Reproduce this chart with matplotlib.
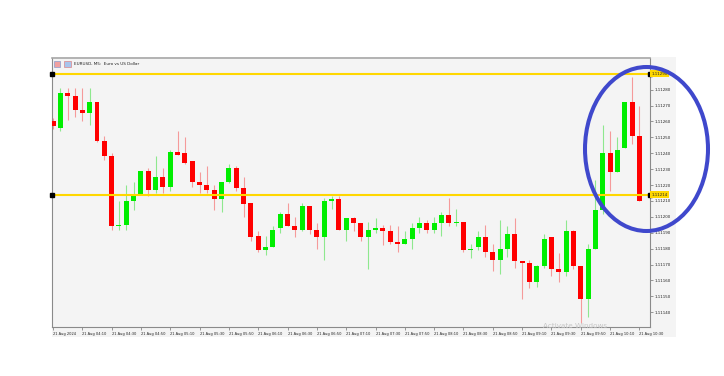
import numpy as np
import matplotlib
matplotlib.use("Agg")
import matplotlib.pyplot as plt
import matplotlib.transforms as mtransforms
from matplotlib.patches import Ellipse, Rectangle

# EURUSD M5 candles, 21 Aug 2024 03:50 .. 10:30
opens = [1.11260, 1.11256, 1.11278, 1.11276, 1.11267, 1.11265, 1.11272, 1.11248, 1.11238, 1.11194,
         1.11195, 1.11210, 1.11214, 1.11229, 1.11217, 1.11225, 1.11219, 1.11241, 1.11240, 1.11235,
         1.11222, 1.11220, 1.11217, 1.11211, 1.11222, 1.11231, 1.11218, 1.11209, 1.11188, 1.11179,
         1.11181, 1.11193, 1.11202, 1.11194, 1.11192, 1.11207, 1.11192, 1.11187, 1.11210, 1.11211,
         1.11192, 1.11199, 1.11196, 1.11187, 1.11192, 1.11193, 1.11191, 1.11184, 1.11183, 1.11186,
         1.11193, 1.11196, 1.11192, 1.11196, 1.11201, 1.11196, 1.11197, 1.11179, 1.11181, 1.11187,
         1.11178, 1.11173, 1.11180, 1.11189, 1.11172, 1.11171, 1.11159, 1.11169, 1.11187, 1.11167,
         1.11165, 1.11191, 1.11169, 1.11148, 1.11180, 1.11204, 1.11240, 1.11228, 1.11243, 1.11272,
         1.11251]
highs = [1.11262, 1.11281, 1.11281, 1.11281, 1.11281, 1.11281, 1.11272, 1.11251, 1.11240, 1.11210,
         1.11220, 1.11222, 1.11229, 1.11231, 1.11238, 1.11231, 1.11242, 1.11254, 1.11250, 1.11235,
         1.11228, 1.11232, 1.11220, 1.11222, 1.11233, 1.11232, 1.11225, 1.11209, 1.11191, 1.11188,
         1.11194, 1.11203, 1.11209, 1.11200, 1.11209, 1.11207, 1.11196, 1.11212, 1.11213, 1.11213,
         1.11199, 1.11200, 1.11196, 1.11197, 1.11199, 1.11195, 1.11195, 1.11194, 1.11191, 1.11196,
         1.11200, 1.11198, 1.11200, 1.11203, 1.11212, 1.11205, 1.11197, 1.11183, 1.11191, 1.11195,
         1.11183, 1.11198, 1.11194, 1.11199, 1.11172, 1.11173, 1.11170, 1.11189, 1.11187, 1.11177,
         1.11198, 1.11192, 1.11169, 1.11183, 1.11223, 1.11258, 1.11254, 1.11250, 1.11272, 1.11288,
         1.11270]
lows = [1.11255, 1.11254, 1.11261, 1.11263, 1.11260, 1.11258, 1.11247, 1.11236, 1.11192, 1.11192,
        1.11192, 1.11204, 1.11214, 1.11213, 1.11215, 1.11215, 1.11216, 1.11239, 1.11233, 1.11219,
        1.11215, 1.11215, 1.11204, 1.11203, 1.11221, 1.11216, 1.11200, 1.11185, 1.11178, 1.11176,
        1.11181, 1.11190, 1.11194, 1.11187, 1.11191, 1.11189, 1.11180, 1.11173, 1.11205, 1.11192,
        1.11185, 1.11191, 1.11185, 1.11167, 1.11190, 1.11182, 1.11183, 1.11178, 1.11183, 1.11180,
        1.11190, 1.11190, 1.11190, 1.11188, 1.11194, 1.11194, 1.11178, 1.11174, 1.11179, 1.11175,
        1.11166, 1.11164, 1.11175, 1.11168, 1.11148, 1.11155, 1.11156, 1.11168, 1.11163, 1.11159,
        1.11163, 1.11167, 1.11133, 1.11137, 1.11180, 1.11202, 1.11216, 1.11228, 1.11243, 1.11246,
        1.11210]
closes = [1.11257, 1.11278, 1.11276, 1.11267, 1.11265, 1.11272, 1.11248, 1.11238, 1.11194, 1.11195,
          1.11210, 1.11214, 1.11229, 1.11217, 1.11225, 1.11219, 1.11241, 1.11239, 1.11234, 1.11222,
          1.11220, 1.11217, 1.11211, 1.11222, 1.11231, 1.11218, 1.11208, 1.11187, 1.11179, 1.11181,
          1.11192, 1.11202, 1.11194, 1.11192, 1.11207, 1.11192, 1.11187, 1.11210, 1.11211, 1.11192,
          1.11199, 1.11196, 1.11187, 1.11192, 1.11193, 1.11191, 1.11184, 1.11183, 1.11186, 1.11193,
          1.11196, 1.11192, 1.11196, 1.11201, 1.11196, 1.11197, 1.11179, 1.11180, 1.11187, 1.11178,
          1.11173, 1.11180, 1.11189, 1.11172, 1.11171, 1.11159, 1.11169, 1.11186, 1.11167, 1.11165,
          1.11191, 1.11169, 1.11148, 1.11180, 1.11204, 1.11240, 1.11228, 1.11242, 1.11272, 1.11251,
          1.11210]

time_labels = ["21 Aug 2024", "21 Aug 04:10", "21 Aug 04:30", "21 Aug 04:50", "21 Aug 05:10",
               "21 Aug 05:30", "21 Aug 05:50", "21 Aug 06:10", "21 Aug 06:30", "21 Aug 06:50",
               "21 Aug 07:10", "21 Aug 07:30", "21 Aug 07:50", "21 Aug 08:10", "21 Aug 08:30",
               "21 Aug 08:50", "21 Aug 09:10", "21 Aug 09:30", "21 Aug 09:50", "21 Aug 10:10",
               "21 Aug 10:30"]
price_ticks = [1.11140, 1.11150, 1.11160, 1.11170, 1.11180, 1.11190, 1.11200, 1.11210,
               1.11220, 1.11230, 1.11240, 1.11250, 1.11260, 1.11270, 1.11280]
level_prices = [1.11290, 1.11214]

W, H = 724, 376
fig = plt.figure(figsize=(W / 100, H / 100), dpi=100)

# light grey panel behind chart and scales
bg = fig.add_axes([52 / W, 1 - 337 / H, (676 - 52) / W, (337 - 57) / H], zorder=-5)
bg.set_facecolor("#f4f4f4")
bg.set_xticks([])
bg.set_yticks([])
for s in bg.spines.values():
    s.set_visible(False)

ax = fig.add_axes([52 / W, 1 - 327 / H, 598 / W, 269 / H], zorder=1)
ax.set_facecolor("#f4f4f4")

o = np.array(opens)
h = np.array(highs)
l = np.array(lows)
c = np.array(closes)
x = np.arange(len(o))
up = c >= o

wick_cols = np.where(up, "#8ee88e", "#f59a9a")
body_cols = np.where(up, "#00ee00", "#ff0000")
ax.vlines(x, l, h, colors=wick_cols, lw=0.8, zorder=2)
body_h = np.maximum(np.abs(c - o), 0.000008)
ax.bar(x, body_h, bottom=np.minimum(o, c), width=0.68, color=body_cols,
       edgecolor="none", zorder=3)

ax.set_xlim(-0.14, 81.45)
ax.set_ylim(1.111307, 1.112999)

# horizontal levels
trans = mtransforms.blended_transform_factory(ax.transAxes, ax.transData)
for p in level_prices:
    ax.axhline(p, color="#ffd700", lw=1.5, zorder=4)
    ax.plot([0, 1], [p, p], ls="none", marker="s", ms=3, color="black",
            transform=trans, clip_on=False, zorder=6)
    ax.text(1.003, p, "%.5f" % p, transform=trans, ha="left", va="center",
            fontsize=2.9, color="#222222",
            bbox=dict(boxstyle="square,pad=0.35", fc="#ffd700", ec="none"), zorder=7)

ax.yaxis.tick_right()
ax.set_yticks(price_ticks)
ax.set_yticklabels(["%.5f" % p for p in price_ticks])
ax.tick_params(axis="y", labelsize=2.9, length=2, width=0.5, color="#707070",
               pad=1, labelcolor="#222222")

ax.set_xticks(x[::4])
ax.set_xticklabels(time_labels)
ax.tick_params(axis="x", labelsize=2.6, length=2.5, width=0.5, color="#707070",
               pad=1, labelcolor="#222222")
for lab in ax.get_xticklabels():
    lab.set_ha("left")

for s in ax.spines.values():
    s.set_color("#8a8a8a")
    s.set_linewidth(0.8)
ax.spines["top"].set_color("#a8a8a8")
ax.spines["top"].set_linewidth(1.2)

# title with little icons
ax.add_patch(Rectangle((0.003, 0.965), 0.011, 0.022, transform=ax.transAxes,
                       fc="#f0a0a0", ec="#7090d0", lw=0.4, zorder=5))
ax.add_patch(Rectangle((0.020, 0.965), 0.011, 0.022, transform=ax.transAxes,
                       fc="#a8c4ec", ec="#e07070", lw=0.4, zorder=5))
ax.text(0.036, 0.977, "EURUSD, M5:  Euro vs US Dollar", transform=ax.transAxes,
        fontsize=3.0, va="center", ha="left", color="#222222", zorder=5)

fig.text(543 / W, 1 - 326 / H, "Activate Windows", fontsize=5.2, color="#c8c8c8",
         va="center", ha="left", zorder=8)

# blue ellipse drawn over the screenshot
over = fig.add_axes([0, 0, 1, 1], facecolor="none", zorder=10)
over.set_xlim(0, W)
over.set_ylim(H, 0)
over.axis("off")
over.add_patch(Ellipse((646.5, 149), 123, 164, fill=False, ec="#3f48cc", lw=2.9))

fig.savefig("out.png", dpi=100)
